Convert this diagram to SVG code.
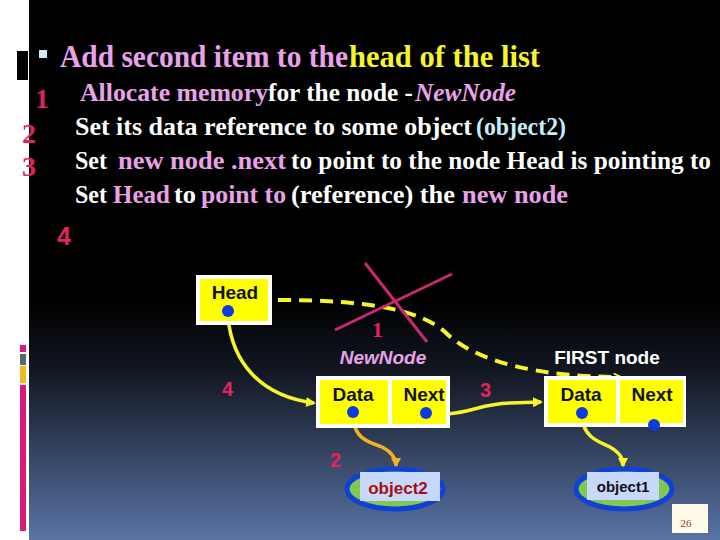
<svg xmlns="http://www.w3.org/2000/svg" width="720" height="540" viewBox="0 0 720 540">
<defs>
<linearGradient id="bg" gradientUnits="userSpaceOnUse" x1="0" y1="300" x2="0" y2="540">
<stop offset="0" stop-color="#000000"/>
<stop offset="0.3" stop-color="#121722"/>
<stop offset="1" stop-color="#5a74a4"/>
</linearGradient>
<marker id="ay" viewBox="0 0 10 10" refX="8" refY="5" markerWidth="10" markerHeight="10" markerUnits="userSpaceOnUse" orient="auto"><path d="M0,0 L10,5 L0,10 Z" fill="#f5f52a"/></marker>
<marker id="ao" viewBox="0 0 10 10" refX="8" refY="5" markerWidth="10" markerHeight="10" markerUnits="userSpaceOnUse" orient="auto"><path d="M0,0 L10,5 L0,10 Z" fill="#f0b420"/></marker>
<marker id="ad" viewBox="0 0 10 10" refX="8" refY="5" markerWidth="9" markerHeight="9" markerUnits="userSpaceOnUse" orient="auto"><path d="M1,1 L9,5 L1,9" fill="none" stroke="#f5f52a" stroke-width="2"/></marker>
<style>
.hd{font-family:"Liberation Serif",serif;font-weight:bold;font-size:31px}
.bd{font-family:"Liberation Serif",serif;font-weight:bold;font-size:26px}
.w{fill:#ffffff}.p{fill:#e8a2e8}.y{fill:#f5f52a}.lb{fill:#c8ecf8}
.num{fill:#e0245e;font-family:"Liberation Serif",serif;font-weight:bold;font-size:28px}
.nums{fill:#e0245e;font-family:"Liberation Sans",Arial,sans-serif;font-weight:bold;font-size:20px}
.lbl{font-family:"Liberation Sans",Arial,sans-serif;font-weight:bold;font-size:19px;fill:#111111;text-anchor:middle}
.box{fill:#ffffff}.cell{fill:#ffff00}
.dot{fill:#0a3ce0}
.sol{fill:none;stroke:#f5f52a;stroke-width:3.5}
.ell{fill:#80c850;stroke:#1040d8;stroke-width:5}
.tag{fill:#c8d8fa}
</style>
</defs>
<rect x="0" y="0" width="720" height="540" fill="#ffffff"/>
<rect x="29" y="0" width="691" height="540" fill="url(#bg)"/>
<rect x="17" y="51" width="11" height="29" fill="#000000"/>
<rect x="20" y="345" width="6" height="7" fill="#d81b7a"/>
<rect x="20" y="354" width="6" height="11" fill="#5a6670"/>
<rect x="20" y="366" width="6" height="17" fill="#f5b820"/>
<rect x="20" y="385" width="6" height="146" fill="#d81b7a"/>
<rect x="39" y="50" width="8" height="8" fill="#d0e8f8"/>

<g id="header">
<text class="hd p" x="60" y="67" textLength="288" lengthAdjust="spacingAndGlyphs">Add second item to the</text>
<text class="hd y" x="349" y="67" textLength="191" lengthAdjust="spacingAndGlyphs">head of the list</text>
</g>
<g id="steps">
<text class="num" x="35" y="108">1</text>
<text class="num" x="22" y="143">2</text>
<text class="num" x="22" y="176">3</text>
<text class="nums" x="57" y="245" style="font-size:25px">4</text>
<text class="bd p" x="80" y="101" textLength="188" lengthAdjust="spacingAndGlyphs">Allocate memory</text>
<text class="bd w" x="268" y="101" textLength="145" lengthAdjust="spacingAndGlyphs">for the node -</text>
<text class="bd p" x="415" y="101" font-style="italic" textLength="101" lengthAdjust="spacingAndGlyphs">NewNode</text>
<text class="bd w" x="75" y="135" textLength="397" lengthAdjust="spacingAndGlyphs">Set its data reference to some object</text>
<text class="bd lb" x="476" y="135" textLength="90" lengthAdjust="spacingAndGlyphs">(object2)</text>
<text class="bd w" x="75" y="169" textLength="32" lengthAdjust="spacingAndGlyphs">Set</text>
<text class="bd p" x="118" y="169" textLength="168" lengthAdjust="spacingAndGlyphs">new node .next</text>
<text class="bd w" x="291" y="169" style="font-size:23px" textLength="420" lengthAdjust="spacingAndGlyphs" transform="translate(291,169) scale(1,1.13) translate(-291,-169)">to point to the node  Head is pointing to</text>
<text class="bd w" x="75" y="203" textLength="32" lengthAdjust="spacingAndGlyphs">Set</text>
<text class="bd p" x="113" y="203" textLength="57" lengthAdjust="spacingAndGlyphs">Head</text>
<text class="bd w" x="174" y="203" textLength="22" lengthAdjust="spacingAndGlyphs">to</text>
<text class="bd p" x="201" y="203" textLength="85" lengthAdjust="spacingAndGlyphs">point to</text>
<text class="bd w" x="291" y="203" textLength="164" lengthAdjust="spacingAndGlyphs">(reference) the</text>
<text class="bd p" x="462" y="203" textLength="106" lengthAdjust="spacingAndGlyphs">new node</text>
</g>

<g id="connectors">
<path d="M278,300 C370,300 420,310 445,332 C475,362 540,377 620,377" fill="none" stroke="#f5f52a" stroke-width="4" stroke-dasharray="13 8" marker-end="url(#ad)"/>
<path class="sol" d="M228,317 C232,362 260,396 314,403" marker-end="url(#ay)"/>
<path class="sol" d="M447,414 C475,412 480,404 510,403 L541,402" marker-end="url(#ay)"/>
<path d="M353,418 C355,440 370,442 382,447 C392,452 396,458 396,466" fill="none" stroke="#f0b420" stroke-width="3.5" marker-end="url(#ao)"/>
<path class="sol" d="M582,418 C584,438 600,442 610,447 C620,453 623,458 623,466" marker-end="url(#ay)"/>
</g>

<g id="cross">
<line x1="365" y1="263" x2="427" y2="342" stroke="#c8286e" stroke-width="3"/>
<line x1="335" y1="330" x2="452" y2="274" stroke="#c8286e" stroke-width="3"/>
</g>

<g id="head">
<rect class="box" x="196" y="275" width="76" height="50"/>
<rect class="cell" x="200" y="279" width="68" height="42"/>
<text class="lbl" x="235" y="299">Head</text>
<circle class="dot" cx="228" cy="311" r="6"/>
</g>

<g id="newnode">
<text x="383" y="364" font-family="Liberation Sans, Arial, sans-serif" font-weight="bold" font-style="italic" font-size="19" fill="#e8a2e8" text-anchor="middle">NewNode</text>
<rect class="box" x="316" y="376" width="134" height="52"/>
<rect class="cell" x="320" y="380" width="68" height="44"/>
<rect class="cell" x="392" y="380" width="54" height="44"/>
<text class="lbl" x="353" y="401">Data</text>
<text class="lbl" x="424" y="401">Next</text>
<circle class="dot" cx="353" cy="412" r="6"/>
<circle class="dot" cx="426" cy="413" r="6"/>
</g>

<g id="firstnode">
<text x="607" y="364" font-family="Liberation Sans, Arial, sans-serif" font-weight="bold" font-size="19" fill="#ffffff" text-anchor="middle">FIRST node</text>
<rect class="box" x="544" y="376" width="142" height="51"/>
<rect class="cell" x="548" y="380" width="68" height="43"/>
<rect class="cell" x="620" y="380" width="63" height="43"/>
<text class="lbl" x="581" y="401">Data</text>
<text class="lbl" x="652" y="401">Next</text>
<circle class="dot" cx="582" cy="413" r="6"/>
<circle class="dot" cx="654" cy="425" r="6"/>
</g>

<g id="object2">
<ellipse class="ell" cx="395" cy="489" rx="48" ry="20"/>
<rect class="tag" x="360" y="472" width="80" height="29"/>
<text x="398" y="494" font-family="Liberation Sans, Arial, sans-serif" font-weight="bold" font-size="17" fill="#a01010" text-anchor="middle">object2</text>
</g>

<g id="object1">
<ellipse class="ell" cx="624" cy="489" rx="48" ry="20"/>
<rect class="tag" x="587" y="472" width="72" height="28"/>
<text x="623" y="492" font-family="Liberation Sans, Arial, sans-serif" font-weight="bold" font-size="15" fill="#101020" text-anchor="middle">object1</text>
</g>

<g id="labels">
<text class="num" x="372" y="337" style="font-size:22px">1</text>
<text class="nums" x="222" y="396">4</text>
<text class="nums" x="480" y="397">3</text>
<text class="nums" x="330" y="467">2</text>
</g>

<g id="page">
<rect x="672" y="504" width="36" height="29" fill="#fffbe8"/>
<text x="686" y="527" font-family="Liberation Serif, serif" font-size="11" fill="#a03030" text-anchor="middle">26</text>
</g>
</svg>
